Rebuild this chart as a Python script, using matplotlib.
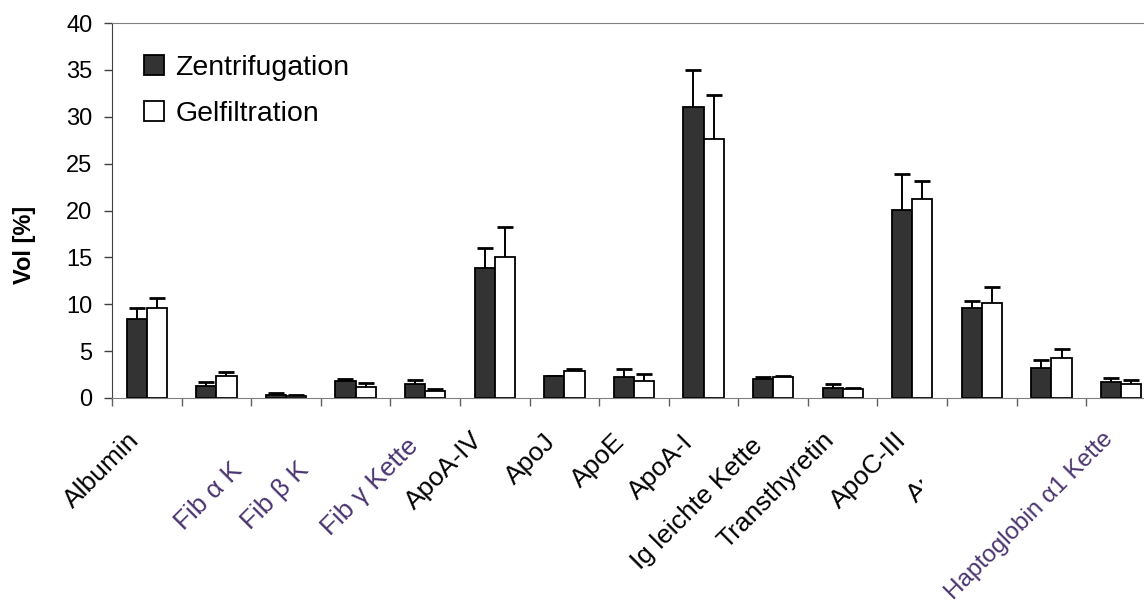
import matplotlib.pyplot as plt
import numpy as np
from matplotlib.transforms import Bbox, blended_transform_factory

# Daten (Vol [%], Mittelwert und oberer Fehlerbalken)
proteins = ["Albumin", "", "Fib \u03b1 K", "Fib \u03b2 K", "Fib \u03b3 Kette", "ApoA-IV", "ApoJ",
            "ApoE", "ApoA-I", "Ig leichte Kette", "Transthyretin", "ApoC-III", "ApoA-II", "",
            "Haptoglobin \u03b11 Kette"]
zentrifugation = [8.4, 1.3, 0.3, 1.8, 1.5, 13.9, 2.3, 2.2, 31.0, 2.0, 1.1, 20.1, 9.6, 3.2, 1.7]
zentrifugation_err = [1.2, 0.45, 0.2, 0.2, 0.45, 2.1, 0.1, 0.85, 4.0, 0.2, 0.4, 3.8, 0.7, 0.9, 0.45]
gelfiltration = [9.6, 2.4, 0.2, 1.15, 0.7, 15.0, 2.85, 1.8, 27.6, 2.2, 0.93, 21.2, 10.1, 4.3, 1.5]
gelfiltration_err = [1.1, 0.4, 0.1, 0.4, 0.25, 3.2, 0.25, 0.8, 4.7, 0.2, 0.15, 1.9, 1.7, 0.9, 0.4]

# Lage der Beschriftungen (Verschiebung in Kategorien, Hoehe in Achsenanteilen)
label_shift = [-0.29, 0, -0.80, -0.85, -0.28, -0.35, -0.30, -0.30, -0.32, -0.33, -0.30, -0.26,
               -0.24, 0, -0.28]
label_y = [-0.08, 0, -0.16, -0.16, -0.095, -0.08, -0.085, -0.085, -0.085, -0.095, -0.08, -0.08,
           -0.08, 0, -0.08]
label_size = [19, 0, 19, 19, 19, 19, 19, 19, 19, 19, 19, 19, 19, 0, 17.5]
colored = {2, 3, 4, 14}

plt.rcParams['font.family'] = ['Liberation Sans', 'DejaVu Sans']

fig = plt.figure(figsize=(11.44, 6.10), dpi=100)
ax = fig.add_axes([112 / 1144, 212 / 610, 1032 / 1144, 375 / 610])

x = np.arange(len(proteins))
w = 0.29
ax.bar(x - w / 2, zentrifugation, w, color='#333333', edgecolor='black', linewidth=1.3,
       label='Zentrifugation', zorder=2)
ax.bar(x + w / 2, gelfiltration, w, color='white', edgecolor='black', linewidth=1.3,
       label='Gelfiltration', zorder=2)
for xs, vals, errs in [(x - w / 2, zentrifugation, zentrifugation_err),
                       (x + w / 2, gelfiltration, gelfiltration_err)]:
    _, caps, _ = ax.errorbar(xs, vals, yerr=[np.zeros(len(x)), errs], fmt='none',
                             ecolor='black', elinewidth=1.4, capsize=5.8, capthick=2,
                             zorder=1)
    # nur die oberen Querstriche zeigen
    for cl in caps:
        if np.allclose(cl.get_ydata(), vals):
            cl.set_visible(False)

ax.set_xlim(-0.5, 14.33)
ax.set_ylim(0, 40)
ax.set_yticks(range(0, 41, 5))
ax.set_xticks(np.arange(-0.5, 14, 1))
ax.set_xticklabels([])
ax.tick_params(axis='y', labelsize=17, length=6, width=1, color='#404040', pad=8)
ax.tick_params(axis='x', length=6, width=1, color='#606060')
ax.spines['right'].set_visible(False)
ax.spines['left'].set_color('#404040')
ax.spines['top'].set_color('#808080')
ax.spines['bottom'].set_color('#808080')

fig.text(24 / 1144, 1 - 245 / 610, 'Vol [%]', rotation=90, fontsize=17, fontweight='bold',
         ha='center', va='center')

trans = blended_transform_factory(ax.transData, ax.transAxes)
for i, name in enumerate(proteins):
    if not name:
        continue
    t = ax.text(i + label_shift[i], label_y[i], name, transform=trans, rotation=45,
                rotation_mode='anchor', ha='right', va='top', fontsize=label_size[i],
                color='#4a3470' if i in colored else 'black')
    if name == 'ApoA-II':
        t.set_clip_box(Bbox.from_extents(0, 0, 922, 610))
        t.set_clip_on(True)

ax.legend(loc='upper left', bbox_to_anchor=(0.02, 0.945), frameon=False, fontsize=20.5,
          handlelength=0.7, handleheight=0.7, handletextpad=0.4, labelspacing=0.7,
          borderaxespad=0)

fig.savefig('out.png', dpi=100)
